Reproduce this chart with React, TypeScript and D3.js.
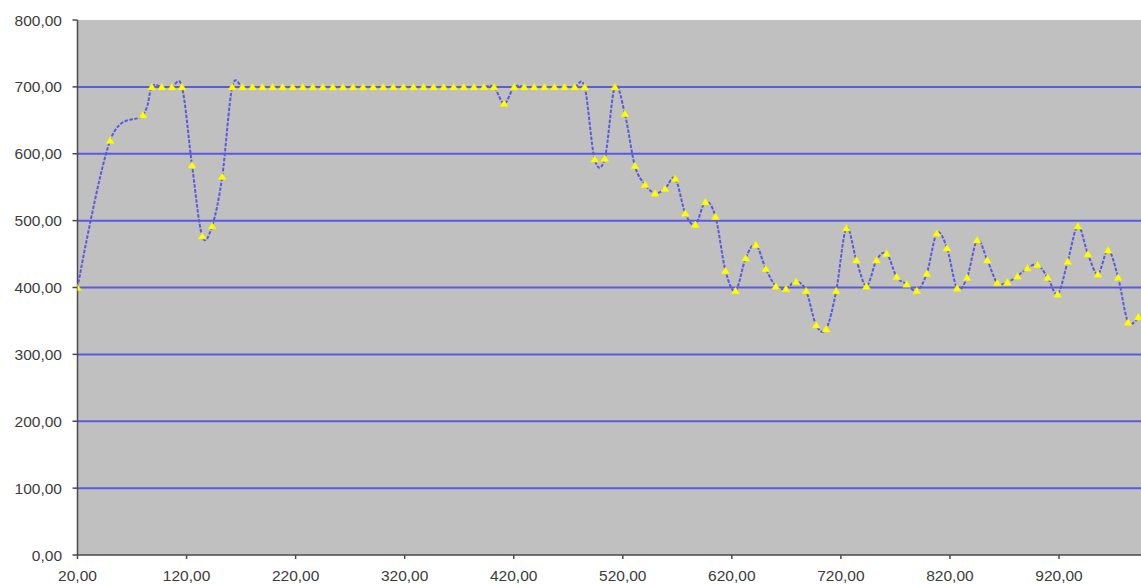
import React from "react";
import * as d3 from "d3";

// X values of the series
const xValues: number[] = [
  20, 50, 80,
  88.1, 97.3, 106.6, 115.8, 125.0, 134.3, 143.5, 152.7, 161.9, 171.2,
  180.4, 189.6, 198.9, 208.1, 217.3, 226.6, 235.8, 245.0, 254.2, 263.5,
  272.7, 281.9, 291.2, 300.4, 309.6, 318.9, 328.1, 337.3, 346.5, 355.8,
  365.0, 374.2, 383.5, 392.7, 401.9, 411.2, 420.4, 429.6, 438.8, 448.1,
  457.3, 466.5, 475.8, 485.0, 494.2, 503.5, 512.7, 521.9, 531.1, 540.4,
  549.6, 558.8, 568.1, 577.3, 586.5, 595.8, 605.0, 614.2, 623.4, 632.7,
  641.9, 651.1, 660.4, 669.6, 678.8, 688.1, 697.3, 706.5, 715.7, 725.0,
  734.2, 743.4, 752.7, 761.9, 771.1, 780.4, 789.6, 798.8, 808.0, 817.3,
  826.5, 835.7, 845.0, 854.2, 863.4, 872.7, 881.9, 891.1, 900.3, 909.6,
  918.8, 928.0, 937.3, 946.5, 955.7, 965.0, 974.2, 983.4, 992.7,
];

// Y values of the series
const yValues: number[] = [
  400, 620, 658,
  700, 700, 700, 700, 583, 477, 492, 566, 700, 700,
  700, 700, 700, 700, 700, 700, 700, 700, 700, 700,
  700, 700, 700, 700, 700, 700, 700, 700, 700, 700,
  700, 700, 700, 700, 700, 675, 700, 700, 700, 700,
  700, 700, 700, 700, 592, 593, 700, 660, 582, 554,
  541, 548, 563, 511, 494, 528, 506, 425, 395, 444,
  464, 428, 402, 398, 409, 395, 344, 338, 395, 489,
  441, 402, 441, 451, 416, 405, 395, 421, 481, 459,
  399, 415, 471, 441, 407, 408, 417, 429, 434, 415,
  390, 439, 492, 450, 420, 456, 415, 348, 356,
];

const yTicks: number[] = [0, 100, 200, 300, 400, 500, 600, 700, 800];
const xTicks: number[] = [20, 120, 220, 320, 420, 520, 620, 720, 820, 920];

const W = 1141;
const H = 584;
const plotLeft = 77.5;
const plotRight = 1141;
const plotTop = 20;
const plotBottom = 555;

const fmt = (v: number) => d3.format(".2f")(v).replace(".", ",");

export default function App() {
  const x = d3
    .scaleLinear()
    .domain([20, 920])
    .range([plotLeft, 1059]);
  const y = d3.scaleLinear().domain([0, 800]).range([plotBottom, plotTop]);

  const pts: [number, number][] = xValues.map((v, i) => [x(v), y(yValues[i])]);
  const line = d3
    .line<[number, number]>()
    .x((d) => d[0])
    .y((d) => d[1])
    .curve(d3.curveCardinal.tension(0));
  const path = line(pts) || "";

  const tri = (cx: number, cy: number) =>
    `M${cx},${cy - 3.6}L${cx + 4},${cy + 3}L${cx - 4},${cy + 3}Z`;

  const font = "'Liberation Sans', Arial, sans-serif";

  return (
    <svg
      width={W}
      height={H}
      style={{ position: "absolute", left: 0, top: 0, background: "#ffffff" }}
    >
      <defs>
        <clipPath id="plotclip">
          <rect x={plotLeft} y={plotTop - 6} width={plotRight - plotLeft} height={plotBottom - plotTop + 6} />
        </clipPath>
      </defs>
      <rect
        x={plotLeft}
        y={plotTop}
        width={plotRight - plotLeft}
        height={plotBottom - plotTop}
        fill="#c0c0c0"
      />
      {yTicks
        .filter((t) => t > 0 && t < 800)
        .map((t) => (
          <line
            key={"g" + t}
            x1={plotLeft}
            x2={plotRight}
            y1={y(t)}
            y2={y(t)}
            stroke="#5a5ae0"
            strokeWidth={2}
          />
        ))}
      {/* axes */}
      <line x1={plotLeft} x2={plotLeft} y1={plotTop} y2={plotBottom} stroke="#4a4a4a" strokeWidth={1.5} />
      <line x1={plotLeft} x2={plotRight} y1={plotBottom} y2={plotBottom} stroke="#4a4a4a" strokeWidth={1.5} />
      {yTicks.map((t) => (
        <g key={"y" + t}>
          <line x1={plotLeft - 5} x2={plotLeft} y1={y(t)} y2={y(t)} stroke="#4a4a4a" strokeWidth={1.5} />
          <text
            x={62}
            y={y(t)}
            textAnchor="end"
            dominantBaseline="central"
            fontFamily={font}
            fontSize={15.5}
            fill="#3c3c3c"
          >
            {fmt(t)}
          </text>
        </g>
      ))}
      {xTicks.map((t) => (
        <g key={"x" + t}>
          <line x1={x(t)} x2={x(t)} y1={plotBottom} y2={plotBottom + 4} stroke="#4a4a4a" strokeWidth={1.5} />
          <text
            x={x(t)}
            y={581}
            textAnchor="middle"
            fontFamily={font}
            fontSize={15.5}
            fill="#3c3c3c"
          >
            {fmt(t)}
          </text>
        </g>
      ))}
      <g clipPath="url(#plotclip)">
        <path
          d={path}
          fill="none"
          stroke="#5a5ae0"
          strokeWidth={2}
          strokeDasharray="3.5 1.5"
        />
        {pts.map((p, i) => (
          <path key={"m" + i} d={tri(p[0], p[1])} fill="#ffff00" stroke="#f0f000" strokeWidth={0.5} />
        ))}
      </g>
    </svg>
  );
}
